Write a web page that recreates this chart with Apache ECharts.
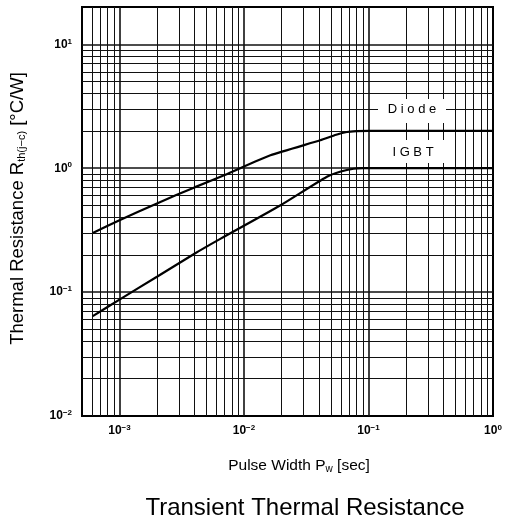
<!DOCTYPE html>
<html><head><meta charset="utf-8">
<script src="https://cdn.jsdelivr.net/npm/echarts@6/dist/echarts.min.js"></script>
<style>html,body{margin:0;padding:0;background:#fff}#c{width:510px;height:522px}</style>
</head><body><div id="c"></div>
<script>
// Data
const pulseWidthDiode = [6.1e-4, 1e-3, 2e-3, 4e-3, 7e-3, 0.0163, 0.041, 0.055, 0.067, 0.08, 0.1, 0.2, 1];
const rthDiode        = [0.30, 0.38, 0.52, 0.70, 0.88, 1.27, 1.68, 1.86, 1.96, 1.99, 2.0, 2.0, 2.0];
const pulseWidthIGBT  = [6.1e-4, 1e-3, 2e-3, 4e-3, 6.5e-3, 0.0195, 0.046, 0.06, 0.076, 0.09, 0.1, 0.2, 1];
const rthIGBT         = [0.064, 0.087, 0.133, 0.204, 0.27, 0.50, 0.85, 0.94, 0.99, 1.0, 1.0, 1.0, 1.0];
const xTickLabels = [[1e-3, '-3'], [1e-2, '-2'], [1e-1, '-1'], [1, '0']];
const yTickLabels = [[1e-2, '-2'], [1e-1, '-1'], [1, '0'], [10, '1']];
const xMin = 5e-4, xMax = 1, yMin = 0.01, yMax = 20;

function logGridValues(lo, hi) {
  const out = [];
  for (let d = Math.floor(Math.log10(lo)); d <= Math.ceil(Math.log10(hi)); d++) {
    for (let k = 1; k <= 9; k++) {
      const v = k * Math.pow(10, d);
      if (v > lo * 1.0001 && v < hi * 0.9999) out.push({ v, major: k === 1 });
    }
  }
  return out;
}
const gridLines = [];
logGridValues(xMin, xMax).forEach(g => gridLines.push({ coords: [[g.v, yMin], [g.v, yMax]], lineStyle: { width: g.major ? 1.6 : 1 } }));
logGridValues(yMin, yMax).forEach(g => gridLines.push({ coords: [[xMin, g.v], [xMax, g.v]], lineStyle: { width: g.major ? 1.6 : 1 } }));

function fmt(list) {
  return function (v) {
    for (const [val, e] of list) {
      if (Math.abs(Math.log10(v) - Math.log10(val)) < 1e-6) return '{b|10}{s|' + e.replace('-', '\u2212') + '}';
    }
    return '';
  };
}
const labelRich = {
  b: { fontFamily: 'Liberation Sans', fontSize: 12, color: '#000', fontWeight: 'bold' },
  s: { fontFamily: 'Liberation Sans', fontSize: 8, color: '#000', fontWeight: 'bold', verticalAlign: 'top', padding: [0, 0, 6, 0] }
};

const chart = echarts.init(document.getElementById('c'), null, { renderer: 'canvas' });
chart.setOption({
  animation: false,
  backgroundColor: '#fff',
  grid: { left: 82, right: 17, top: 7, bottom: 106, show: true, borderColor: '#000', borderWidth: 2, backgroundColor: 'transparent' },
  xAxis: {
    type: 'log', logBase: 10, min: xMin, max: xMax,
    axisLine: { show: false }, axisTick: { show: false }, splitLine: { show: false },
    axisLabel: { formatter: fmt(xTickLabels), margin: 8, rich: labelRich, showMinLabel: true, showMaxLabel: true, hideOverlap: false }
  },
  yAxis: {
    type: 'log', logBase: 10, min: yMin, max: yMax,
    axisLine: { show: false }, axisTick: { show: false }, splitLine: { show: false },
    axisLabel: { formatter: fmt(yTickLabels), margin: 10, rich: labelRich, showMinLabel: true, hideOverlap: false },
    name: 'Thermal Resistance R{sub|th(j\u2212c)} [°C/W]',
    nameLocation: 'middle', nameRotate: 90, nameGap: 55,
    nameTextStyle: { fontFamily: 'Liberation Sans', fontSize: 18.5, color: '#000', padding: [0, 0, 0, 6],
      rich: { sub: { fontFamily: 'Liberation Sans', fontSize: 11, color: '#000', verticalAlign: 'bottom', padding: [5, 0, 0, 0] } } }
  },
  graphic: [
    { type: 'rect', z: 1, shape: { x: 378, y: 99, width: 68, height: 24 }, style: { fill: '#fff' } },
    { type: 'rect', z: 1, shape: { x: 378, y: 140, width: 70, height: 23 }, style: { fill: '#fff' } },
    { type: 'text', z: 10, x: 412, y: 109, style: { text: 'D i o d e', font: '13px "Liberation Sans"', fill: '#000', align: 'center', verticalAlign: 'middle' } },
    { type: 'text', z: 10, x: 413, y: 152, style: { text: 'I G B T', font: '13px "Liberation Sans"', fill: '#000', align: 'center', verticalAlign: 'middle' } },
    { type: 'text', z: 10, x: 299, y: 466, style: { text: 'Pulse Width P{sub|w} [sec]', font: '15.5px "Liberation Sans"', fill: '#000', align: 'center', verticalAlign: 'middle',
      rich: { sub: { fontFamily: 'Liberation Sans', fontSize: 10, fill: '#000', verticalAlign: 'bottom', padding: [5, 0, 0, 0] } } } },
    { type: 'text', z: 10, x: 305, y: 508, style: { text: 'Transient Thermal Resistance', font: '24px "Liberation Sans"', fill: '#000', align: 'center', verticalAlign: 'middle' } }
  ],
  series: [
    {
      name: 'grid', type: 'lines', coordinateSystem: 'cartesian2d', z: 0, silent: true, polyline: false,
      lineStyle: { color: '#111', type: 'solid', width: 1, opacity: 1 },
      data: gridLines
    },
    {
      name: 'Diode', type: 'line', z: 5, showSymbol: false, symbol: 'none', smooth: 0.2,
      lineStyle: { color: '#000', width: 2.2 },
      data: pulseWidthDiode.map((x, i) => [x, rthDiode[i]])
    },
    {
      name: 'IGBT', type: 'line', z: 5, showSymbol: false, symbol: 'none', smooth: 0.2,
      lineStyle: { color: '#000', width: 2.2 },
      data: pulseWidthIGBT.map((x, i) => [x, rthIGBT[i]])
    }
  ]
});
</script></body></html>
